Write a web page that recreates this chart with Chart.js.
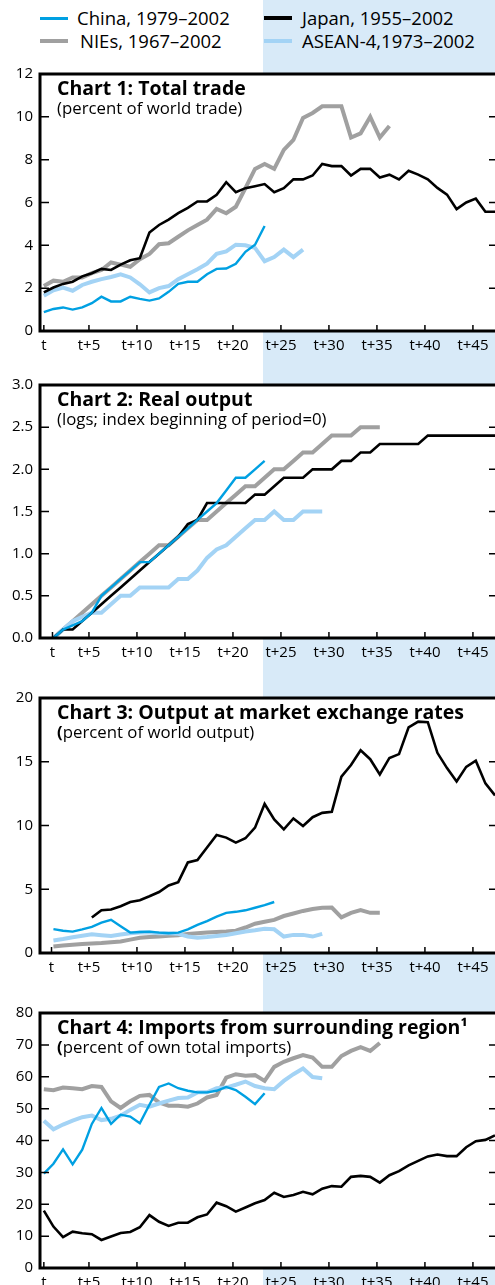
<!DOCTYPE html>
<html>
<head>
<meta charset="utf-8">
<script src="https://cdn.jsdelivr.net/npm/chart.js@4.4.1/dist/chart.umd.min.js"></script>
<style>
  html, body { margin: 0; padding: 0; width: 495px; height: 1285px; overflow: hidden; background: #fff; font-family: "Open Sans", sans-serif; }
  #panel { position: absolute; left: 263px; top: 0; width: 232px; height: 1285px; background: #d8eaf8; }
  .leg { position: absolute; font-size: 18.5px; line-height: 20px; color: #000; white-space: nowrap; }
  .sw { position: absolute; width: 28px; }
  canvas { position: absolute; left: 0; }
</style>
</head>
<body>
<div id="panel"></div>
<div id="legend"></div>
<canvas id="c1" width="495" height="303" style="top:58px"></canvas>
<canvas id="c2" width="495" height="299" style="top:369px"></canvas>
<canvas id="c3" width="495" height="301" style="top:682px"></canvas>
<canvas id="c4" width="495" height="301" style="top:997px"></canvas>
<script>
// ---------- DATA ----------
const seriesNames = ['China, 1979–2002', 'Japan, 1955–2002', 'NIEs, 1967–2002', 'ASEAN-4,1973–2002'];
const xTickLabels = ['t', 't+5', 't+10', 't+15', 't+20', 't+25', 't+30', 't+35', 't+40', 't+45'];

// Chart 1: Total trade (percent of world trade); first value at period t
const tradeChina = [0.88, 1.03, 1.1, 1.0, 1.1, 1.3, 1.6, 1.38, 1.38, 1.6, 1.5, 1.42, 1.52, 1.83, 2.2, 2.3, 2.3, 2.65, 2.9, 2.92, 3.14, 3.7, 4.03, 4.9];
const tradeJapan = [1.8, 2.03, 2.2, 2.3, 2.55, 2.7, 2.9, 2.85, 3.1, 3.3, 3.4, 4.6, 4.95, 5.2, 5.5, 5.75, 6.05, 6.05, 6.36, 6.95, 6.48, 6.67, 6.76, 6.86, 6.48, 6.67, 7.08, 7.08, 7.26, 7.8, 7.7, 7.7, 7.26, 7.57, 7.57, 7.17, 7.3, 7.08, 7.48, 7.3, 7.08, 6.68, 6.37, 5.69, 6.0, 6.18, 5.57, 5.57];
const tradeNIEs = [2.1, 2.35, 2.3, 2.5, 2.5, 2.7, 2.85, 3.2, 3.1, 3.0, 3.35, 3.6, 4.05, 4.1, 4.4, 4.7, 4.95, 5.2, 5.7, 5.5, 5.8, 6.67, 7.57, 7.8, 7.57, 8.46, 8.92, 9.95, 10.18, 10.49, 10.49, 10.49, 9.03, 9.23, 10.0, 9.03, 9.57];
const tradeASEAN = [1.65, 1.9, 2.03, 1.88, 2.15, 2.3, 2.42, 2.52, 2.65, 2.5, 2.18, 1.8, 2.0, 2.1, 2.42, 2.65, 2.88, 3.14, 3.6, 3.72, 4.03, 4.0, 3.88, 3.26, 3.45, 3.8, 3.45, 3.8];
const tradeStart = 0;

// Chart 2: Real output (logs; index beginning of period = 0); first value at period t+1
const outputChina = [0, 0.1, 0.15, 0.2, 0.3, 0.5, 0.6, 0.7, 0.8, 0.9, 0.9, 1.0, 1.1, 1.2, 1.3, 1.4, 1.5, 1.6, 1.75, 1.9, 1.9, 2.0, 2.1];
const outputJapan = [0, 0.1, 0.1, 0.2, 0.3, 0.4, 0.5, 0.6, 0.7, 0.8, 0.9, 1.0, 1.1, 1.2, 1.35, 1.4, 1.6, 1.6, 1.6, 1.6, 1.6, 1.7, 1.7, 1.8, 1.9, 1.9, 1.9, 2.0, 2.0, 2.0, 2.1, 2.1, 2.2, 2.2, 2.3, 2.3, 2.3, 2.3, 2.3, 2.4, 2.4, 2.4, 2.4, 2.4, 2.4, 2.4, 2.4];
const outputNIEs = [0, 0.1, 0.2, 0.3, 0.4, 0.5, 0.6, 0.7, 0.8, 0.9, 1.0, 1.1, 1.1, 1.2, 1.3, 1.4, 1.4, 1.5, 1.6, 1.7, 1.8, 1.8, 1.9, 2.0, 2.0, 2.1, 2.2, 2.2, 2.3, 2.4, 2.4, 2.4, 2.5, 2.5, 2.5];
const outputASEAN = [0, 0.1, 0.2, 0.25, 0.3, 0.3, 0.4, 0.5, 0.5, 0.6, 0.6, 0.6, 0.6, 0.7, 0.7, 0.8, 0.95, 1.05, 1.1, 1.2, 1.3, 1.4, 1.4, 1.5, 1.4, 1.4, 1.5, 1.5, 1.5];
const outputStart = 1;

// Chart 3: Output at market exchange rates (percent of world output)
const marketChina = [1.87, 1.75, 1.68, 1.85, 2.05, 2.38, 2.6, 2.1, 1.6, 1.65, 1.68, 1.6, 1.55, 1.6, 1.85, 2.2, 2.5, 2.85, 3.15, 3.23, 3.35, 3.55, 3.75, 4.0];
const marketJapan = [2.79, 3.36, 3.41, 3.67, 4.0, 4.14, 4.45, 4.78, 5.3, 5.56, 7.1, 7.29, 8.27, 9.26, 9.05, 8.66, 9.0, 9.83, 11.69, 10.47, 9.7, 10.55, 9.96, 10.65, 10.99, 11.07, 13.83, 14.74, 15.9, 15.2, 14.0, 15.3, 15.6, 17.7, 18.15, 18.1, 15.7, 14.5, 13.45, 14.6, 15.08, 13.3, 12.36];
const marketNIEs = [0.51, 0.58, 0.64, 0.7, 0.75, 0.78, 0.85, 0.9, 1.05, 1.2, 1.25, 1.3, 1.35, 1.4, 1.5, 1.55, 1.6, 1.65, 1.68, 1.75, 2.0, 2.3, 2.45, 2.6, 2.9, 3.1, 3.3, 3.45, 3.55, 3.57, 2.8, 3.15, 3.36, 3.15, 3.15];
const marketASEAN = [0.98, 1.1, 1.24, 1.35, 1.47, 1.4, 1.34, 1.45, 1.55, 1.6, 1.6, 1.55, 1.55, 1.5, 1.3, 1.2, 1.25, 1.34, 1.42, 1.55, 1.68, 1.78, 1.9, 1.86, 1.29, 1.42, 1.42, 1.29, 1.5];
const marketStart = 1;
const marketJapanStart = 5;

// Chart 4: Imports from surrounding region (percent of own total imports)
const importsChina = [29.6, 32.7, 37.2, 32.5, 37.1, 45.2, 50.2, 45.2, 48.1, 47.5, 45.4, 51.2, 56.8, 57.9, 56.4, 55.6, 55.1, 55.1, 55.6, 56.8, 55.8, 53.7, 51.4, 54.8];
const importsJapan = [18.0, 13.0, 9.7, 11.4, 10.9, 10.6, 8.8, 9.9, 11.0, 11.3, 12.8, 16.6, 14.5, 13.2, 14.2, 14.2, 15.9, 16.8, 20.5, 19.4, 17.7, 19.0, 20.3, 21.3, 23.6, 22.3, 22.9, 23.9, 23.1, 24.9, 25.7, 25.5, 28.6, 28.9, 28.6, 26.8, 29.1, 30.4, 32.2, 33.6, 35.0, 35.6, 35.1, 35.1, 37.9, 39.8, 40.2, 41.6];
const importsNIEs = [56.1, 55.8, 56.6, 56.4, 56.1, 57.1, 56.8, 52.3, 50.2, 52.3, 54.0, 54.3, 51.9, 50.9, 50.9, 50.6, 51.6, 53.5, 54.3, 59.7, 60.8, 60.3, 60.5, 58.7, 63.1, 64.7, 65.8, 66.8, 66.0, 63.1, 63.1, 66.5, 68.1, 69.3, 68.1, 70.6];
const importsASEAN = [46.2, 43.5, 45.0, 46.2, 47.3, 47.8, 46.4, 46.8, 47.8, 49.6, 51.2, 50.6, 51.6, 52.5, 53.3, 53.5, 55.1, 55.1, 56.4, 56.6, 57.5, 58.5, 57.1, 56.4, 56.1, 58.7, 60.8, 62.6, 59.9, 59.5];
const importsStart = 0;

// ---------- STYLE ----------
const COLORS = { china: '#00a0e2', japan: '#000000', nies: '#a0a0a0', asean: '#a3d3f5' };
const WIDTHS = { china: 2.4, japan: 2.6, nies: 4, asean: 4 };
const FONT = '"Open Sans", sans-serif';

// legend (HTML)
(function buildLegend() {
  const L = document.getElementById('legend');
  const items = [
    { name: seriesNames[0], c: COLORS.china, h: 3, sx: 40, sy: 17, tx: 77, ty: 8 },
    { name: seriesNames[1], c: COLORS.japan, h: 4, sx: 264, sy: 16, tx: 302, ty: 8 },
    { name: seriesNames[2], c: COLORS.nies, h: 4, sx: 40, sy: 39, tx: 80, ty: 31 },
    { name: seriesNames[3], c: COLORS.asean, h: 4, sx: 264, sy: 39, tx: 302, ty: 31 }
  ];
  items.forEach(it => {
    const s = document.createElement('div');
    s.className = 'sw';
    s.style.cssText = `left:${it.sx}px;top:${it.sy}px;height:${it.h}px;background:${it.c}`;
    L.appendChild(s);
    const t = document.createElement('div');
    t.className = 'leg';
    t.style.cssText = `left:${it.tx}px;top:${it.ty}px`;
    t.textContent = it.name;
    L.appendChild(t);
  });
})();

// plugin: white plot area, frame, inward ticks, in-plot titles
const framePlugin = {
  id: 'frame',
  beforeDraw(chart) {
    const { ctx, chartArea: a } = chart;
    ctx.save();
    ctx.fillStyle = '#ffffff';
    ctx.fillRect(a.left, a.top, a.right - a.left, a.bottom - a.top);
    ctx.restore();
  },
  afterDatasetsDraw(chart, args, opts) {
    const { ctx, chartArea: a, scales } = chart;
    const x = scales.x, y = scales.y;
    ctx.save();
    ctx.strokeStyle = '#000';
    ctx.lineWidth = 1.5;
    y.ticks.forEach(t => {
      const p = y.getPixelForValue(t.value);
      ctx.beginPath();
      ctx.moveTo(a.left, p); ctx.lineTo(a.left + 9, p);
      ctx.moveTo(a.right - 6, p); ctx.lineTo(a.right, p);
      ctx.stroke();
    });
    x.ticks.forEach(t => {
      const p = x.getPixelForValue(t.value);
      ctx.beginPath();
      ctx.moveTo(p, a.bottom); ctx.lineTo(p, a.bottom - 6);
      ctx.stroke();
    });
    ctx.lineWidth = 3;
    ctx.beginPath();
    ctx.moveTo(a.right + 2, a.top);
    ctx.lineTo(a.left, a.top);
    ctx.lineTo(a.left, a.bottom);
    ctx.lineTo(a.right + 2, a.bottom);
    ctx.stroke();
    // titles
    ctx.fillStyle = '#000';
    ctx.textAlign = 'left';
    ctx.textBaseline = 'alphabetic';
    ctx.font = 'bold 19.5px ' + FONT;
    ctx.fillText(opts.title, a.left + 17, a.top + 21);
    let sx = a.left + 17;
    if (opts.boldParen) {
      ctx.font = 'bold 16.8px ' + FONT;
      ctx.fillText('(', sx, a.top + 40);
      sx += ctx.measureText('(').width;
      ctx.font = '16.8px ' + FONT;
      ctx.fillText(opts.sub.slice(1), sx, a.top + 40);
    } else {
      ctx.font = '16.8px ' + FONT;
      ctx.fillText(opts.sub, sx, a.top + 40);
    }
    ctx.restore();
  }
};

function toXY(values, start) {
  return values.map((v, i) => ({ x: start + i, y: v }));
}

function makeChart(id, cfg) {
  const ds = [
    { key: 'china', data: toXY(cfg.china, cfg.start) },
    { key: 'japan', data: toXY(cfg.japan, cfg.japanStart ?? cfg.start) },
    { key: 'asean', data: toXY(cfg.asean, cfg.start) },
    { key: 'nies', data: toXY(cfg.nies, cfg.start) }
  ].map(d => ({
    data: d.data,
    borderColor: COLORS[d.key],
    borderWidth: WIDTHS[d.key],
    pointRadius: 0,
    tension: 0,
    fill: false,
    borderJoinStyle: 'miter',
    label: d.key
  }));
  const tickVals = xTickLabels.map((_, i) => i === 0 ? cfg.firstTick : i * 5 - 0.3);
  return new Chart(document.getElementById(id), {
    type: 'line',
    data: { datasets: ds },
    plugins: [framePlugin],
    options: {
      responsive: false,
      animation: false,
      devicePixelRatio: 1,
      layout: { padding: { top: 14, left: 0, right: 0, bottom: 0 }, autoPadding: false },
      plugins: {
        legend: { display: false },
        tooltip: { enabled: false },
        frame: { title: cfg.title, sub: cfg.sub, boldParen: !!cfg.boldParen }
      },
      scales: {
        x: {
          type: 'linear', min: -0.4, max: 47,
          grid: { display: false, drawTicks: false },
          border: { display: false },
          afterBuildTicks: s => { s.ticks = tickVals.map(v => ({ value: v })); },
          afterFit: s => { s.height = 30; },
          ticks: {
            autoSkip: false, maxRotation: 0, padding: 6,
            color: '#000', font: { family: FONT, size: 15 },
            callback: (v, i) => xTickLabels[i]
          }
        },
        y: {
          min: cfg.ymin, max: cfg.ymax,
          grid: { display: false, drawTicks: false },
          border: { display: false },
          afterFit: s => { s.width = 40; },
          ticks: {
            stepSize: cfg.step, padding: 7,
            color: '#000', font: { family: FONT, size: 15 },
            callback: v => cfg.decimals ? v.toFixed(cfg.decimals) : String(v)
          }
        }
      }
    }
  });
}

makeChart('c1', { china: tradeChina, japan: tradeJapan, nies: tradeNIEs, asean: tradeASEAN, start: tradeStart,
  ymin: 0, ymax: 12, step: 2, firstTick: 0,
  title: 'Chart 1: Total trade', sub: '(percent of world trade)' });
makeChart('c2', { china: outputChina, japan: outputJapan, nies: outputNIEs, asean: outputASEAN, start: outputStart,
  ymin: 0, ymax: 3, step: 0.5, decimals: 1, firstTick: 0.9,
  title: 'Chart 2: Real output', sub: '(logs; index beginning of period=0)' });
makeChart('c3', { china: marketChina, japan: marketJapan, nies: marketNIEs, asean: marketASEAN, start: marketStart, japanStart: marketJapanStart,
  ymin: 0, ymax: 20, step: 5, firstTick: 0.8,
  title: 'Chart 3: Output at market exchange rates', sub: '(percent of world output)', boldParen: true });
makeChart('c4', { china: importsChina, japan: importsJapan, nies: importsNIEs, asean: importsASEAN, start: importsStart,
  ymin: 0, ymax: 80, step: 10, firstTick: 0,
  title: 'Chart 4: Imports from surrounding region\u00B9', sub: '(percent of own total imports)', boldParen: true });
</script>
</body>
</html>
